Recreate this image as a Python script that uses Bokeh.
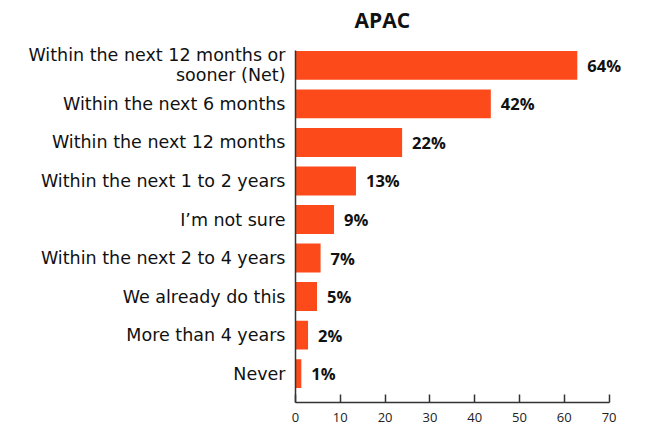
from bokeh.plotting import figure
from bokeh.models import FactorRange, Range1d, ColumnDataSource, FixedTicker
from bokeh.core.properties import value
from bokeh.embed import file_html
from bokeh.resources import INLINE

categories = [
    "Within the next 12 months or\nsooner (Net)",
    "Within the next 6 months",
    "Within the next 12 months",
    "Within the next 1 to 2 years",
    "I\u2019m not sure",
    "Within the next 2 to 4 years",
    "We already do this",
    "More than 4 years",
    "Never",
]
bar_values = [62.9, 43.6, 23.8, 13.5, 8.6, 5.6, 4.8, 2.8, 1.3]
value_labels = ["64%", "42%", "22%", "13%", "9%", "7%", "5%", "2%", "1%"]
x_ticks = [0, 10, 20, 30, 40, 50, 60, 70]

LABEL_FONT = "DejaVu Sans"
VALUE_FONT = "Open Sans"
BAR_COLOR = "#FC4A1A"
TEXT_COLOR = "#111111"
BAR_HEIGHT = 0.75
PAD = 0.25

src = ColumnDataSource(dict(cat=categories, val=bar_values, lbl=value_labels))

p = figure(
    width=656, height=424,
    y_range=FactorRange(factors=list(reversed(categories)), range_padding=PAD,
                        range_padding_units="absolute"),
    x_range=Range1d(0, 75),
    output_backend="svg", toolbar_location=None,
    min_border_left=295, min_border_right=25, min_border_top=36, min_border_bottom=22,
)

p.hbar(y="cat", left=0, right="val", height=BAR_HEIGHT, source=src,
       fill_color=BAR_COLOR, line_color=None)
p.text(x="val", y="cat", text="lbl", source=src, x_offset=10,
       text_baseline="middle", text_align="left",
       text_font=value(VALUE_FONT), text_font_style="bold", text_font_size="16.5px",
       text_color=TEXT_COLOR)

p.title.text = "APAC"
p.title.align = "left"
p.title.offset = 59
p.title.standoff = 5
p.title.text_font = VALUE_FONT
p.title.text_font_style = "bold"
p.title.text_font_size = "21px"
p.title.text_color = TEXT_COLOR

p.xgrid.visible = False
p.ygrid.visible = False
p.outline_line_color = None
p.background_fill_color = "white"
p.border_fill_color = "white"

xa = p.xaxis[0]
xa.ticker = FixedTicker(ticks=x_ticks)
xa.bounds = (0, 70)
xa.major_tick_in = 8
xa.major_tick_out = 0
xa.minor_tick_line_color = None
xa.axis_line_color = "#333333"
xa.axis_line_width = 1.5
xa.major_tick_line_color = "#333333"
xa.major_tick_line_width = 1.5
xa.major_label_text_font = VALUE_FONT
xa.major_label_text_font_size = "13px"
xa.major_label_text_color = "#222222"
xa.major_label_standoff = 10

ya = p.yaxis[0]
ya.bounds = (-2 * PAD, len(categories) - 0.5 + BAR_HEIGHT / 2)
ya.major_tick_in = 0
ya.major_tick_out = 0
ya.minor_tick_line_color = None
ya.axis_line_color = "#333333"
ya.axis_line_width = 1.5
ya.major_label_text_font = LABEL_FONT
ya.major_label_text_font_size = "17.5px"
ya.major_label_text_line_height = 1.0
ya.major_label_text_color = TEXT_COLOR
ya.major_label_standoff = 10

open("out.html", "w").write(file_html(p, INLINE))
